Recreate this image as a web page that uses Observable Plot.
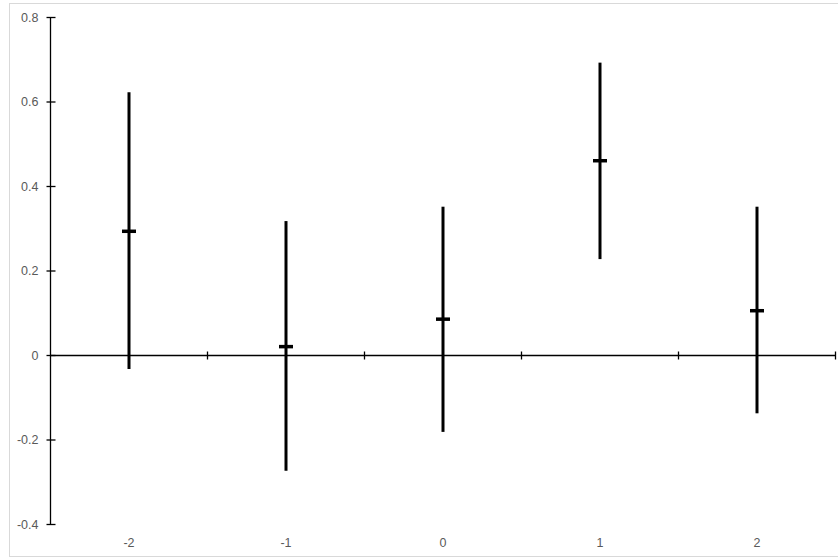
<!DOCTYPE html>
<html>
<head>
<meta charset="utf-8">
<script src="https://cdn.jsdelivr.net/npm/d3@7"></script>
<script src="https://cdn.jsdelivr.net/npm/@observablehq/plot@0.6"></script>
<style>
  html, body { margin: 0; padding: 0; background: #fff; }
  #wrap { position: relative; width: 838px; height: 559px; overflow: hidden; }
  #frame { position: absolute; left: 9px; top: 3px; width: 900px; height: 554px; border: 1px solid #d9d9d9; border-right: none; box-sizing: border-box; }
  #chart { position: absolute; left: 0; top: 0; }
  #chart svg text { font-size: 12.5px !important; font-family: 'Liberation Sans', Arial, sans-serif !important; }
</style>
</head>
<body>
<div id="wrap"><div id="frame"></div><div id="chart"></div></div>
<script>
const categories = [-2, -1, 0, 1, 2];
const means = [0.294, 0.021, 0.086, 0.461, 0.106];
const highs = [0.622, 0.317, 0.351, 0.692, 0.351];
const lows = [-0.033, -0.274, -0.182, 0.227, -0.138];
const yTicks = [-0.4, -0.2, 0, 0.2, 0.4, 0.6, 0.8];

const data = categories.map((c, i) => ({c, mean: means[i], high: highs[i], low: lows[i]}));
const boundaries = categories.map(c => c + 0.5);

const vline = {draw(ctx, size) { const r = Math.sqrt(size / Math.PI); ctx.moveTo(0, -r); ctx.lineTo(0, r); }};
const hline = {draw(ctx, size) { const r = Math.sqrt(size / Math.PI); ctx.moveTo(-r, 0); ctx.lineTo(r, 0); }};

const chart = Plot.plot({
  width: 838,
  height: 559,
  marginLeft: 50,
  marginRight: 3,
  marginTop: 17,
  marginBottom: 35,
  style: {fontFamily: "'Liberation Sans', Arial, sans-serif", fontSize: "12px", color: "#595959", background: "transparent"},
  x: {type: "linear", domain: [-2.5, 2.5]},
  y: {domain: [-0.4, 0.8]},
  marks: [
    Plot.axisY({ticks: yTicks, tickSize: 0, tickPadding: 12, tickFormat: d => String(d), fill: "#595959", fontSize: 12, label: null}),
    Plot.axisX({ticks: categories, tickSize: 0, tickPadding: 14, tickFormat: d => String(d), fill: "#595959", fontSize: 12, label: null}),
    Plot.ruleX([-2.5], {stroke: "#000", strokeWidth: 1.3}),
    Plot.ruleY([0], {stroke: "#000", strokeWidth: 1.3}),
    Plot.dot(yTicks, {x: -2.5, y: d => d, symbol: hline, r: 4.5, dx: 0.5, stroke: "#000", strokeWidth: 1.3, fill: "none"}),
    Plot.dot(boundaries, {x: d => d, y: 0, symbol: vline, r: 4, stroke: "#000", strokeWidth: 1.3, fill: "none"}),
    Plot.ruleX(data, {x: "c", y1: "low", y2: "high", stroke: "#000", strokeWidth: 3}),
    Plot.dot(data, {x: "c", y: "mean", symbol: hline, r: 7, stroke: "#000", strokeWidth: 3.5, fill: "none"})
  ]
});
document.getElementById("chart").appendChild(chart);
</script>
</body>
</html>
